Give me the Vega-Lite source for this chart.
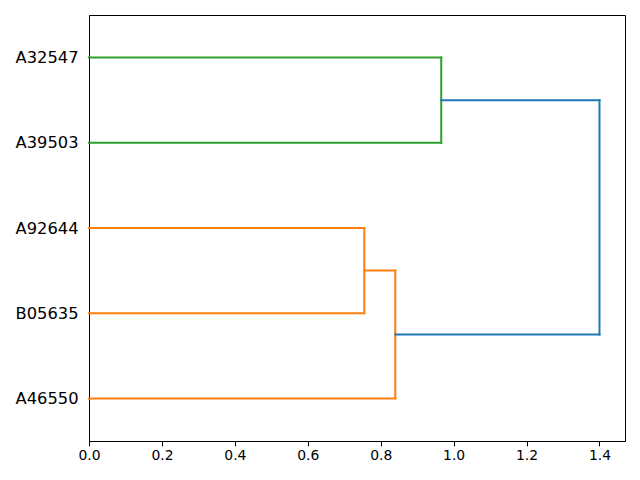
{
  "$schema": "https://vega.github.io/schema/vega-lite/v6.json",
  "width": 536,
  "height": 426,
  "autosize": {"type": "none"},
  "padding": {"left": 89, "top": 15, "right": 15, "bottom": 39},
  "background": "white",
  "config": {
    "view": {"stroke": "black", "strokeWidth": 1},
    "font": "DejaVu Sans"
  },
  "data": {
    "values": [
      {"x": 0, "x2": 0.755, "y": 25, "y2": 25, "c": "C1"},
      {"x": 0.755, "x2": 0.755, "y": 25, "y2": 15, "c": "C1"},
      {"x": 0, "x2": 0.755, "y": 15, "y2": 15, "c": "C1"},
      {"x": 0.755, "x2": 0.84, "y": 20, "y2": 20, "c": "C1"},
      {"x": 0.84, "x2": 0.84, "y": 20, "y2": 5, "c": "C1"},
      {"x": 0, "x2": 0.84, "y": 5, "y2": 5, "c": "C1"},
      {"x": 0, "x2": 0.966, "y": 45, "y2": 45, "c": "C2"},
      {"x": 0.966, "x2": 0.966, "y": 45, "y2": 35, "c": "C2"},
      {"x": 0, "x2": 0.966, "y": 35, "y2": 35, "c": "C2"},
      {"x": 0.966, "x2": 1.4, "y": 40, "y2": 40, "c": "C0"},
      {"x": 1.4, "x2": 1.4, "y": 40, "y2": 12.5, "c": "C0"},
      {"x": 0.84, "x2": 1.4, "y": 12.5, "y2": 12.5, "c": "C0"}
    ]
  },
  "mark": {"type": "rule", "strokeWidth": 2, "strokeCap": "square"},
  "encoding": {
    "x": {
      "field": "x", "type": "quantitative",
      "scale": {"domain": [0, 1.47], "nice": false, "zero": false},
      "axis": {
        "title": null, "values": [0, 0.2, 0.4, 0.6, 0.8, 1.0, 1.2, 1.4],
        "format": ".1f", "grid": false, "domainColor": "black", "tickColor": "black",
        "tickSize": 4.86, "labelFontSize": 13.9, "labelColor": "black", "labelPadding": 3,
        "labelFont": "DejaVu Sans", "labelFlush": false, "labelBound": false, "labelOverlap": false
      }
    },
    "x2": {"field": "x2"},
    "y": {
      "field": "y", "type": "quantitative",
      "scale": {"domain": [0, 50], "nice": false, "zero": false},
      "axis": {
        "title": null, "values": [5, 15, 25, 35, 45], "grid": false,
        "ticks": false, "domainColor": "black", "labelFontSize": 16.3, "labelColor": "black",
        "labelPadding": 11, "labelFont": "DejaVu Sans", "labelFlush": false, "labelOverlap": false,
        "labelExpr": "datum.value == 5 ? 'A46550' : datum.value == 15 ? 'B05635' : datum.value == 25 ? 'A92644' : datum.value == 35 ? 'A39503' : 'A32547'"
      }
    },
    "y2": {"field": "y2"},
    "color": {
      "field": "c", "type": "nominal", "legend": null,
      "scale": {"domain": ["C0", "C1", "C2"], "range": ["#1f77b4", "#ff7f0e", "#2ca02c"]}
    }
  }
}
